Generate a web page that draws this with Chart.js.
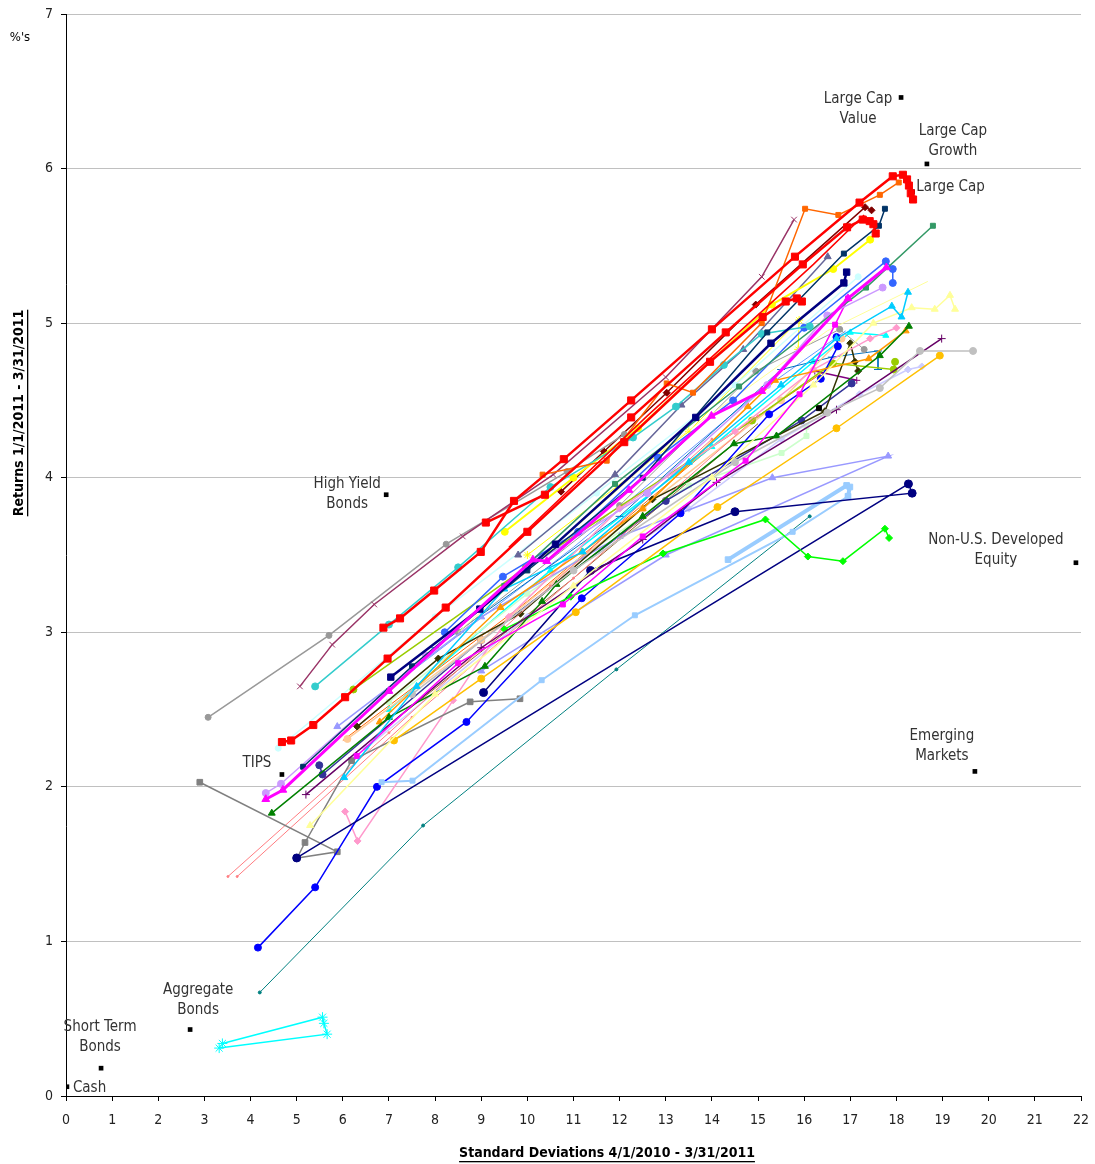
<!DOCTYPE html>
<html>
<head>
<meta charset="utf-8">
<script src="https://cdn.jsdelivr.net/npm/chart.js@4.4.1/dist/chart.umd.min.js"></script>
<style>
    html, body { margin: 0; padding: 0; background: #ffffff; }
    #wrap { width: 1095px; height: 1164px; }
</style>
</head>
<body>
<div id="wrap"><canvas id="riskReturnChart" width="1095" height="1164"></canvas></div>
<script>
// axis ticks
const xTicks = [0, 1, 2, 3, 4, 5, 6, 7, 8, 9, 10, 11, 12, 13, 14, 15, 16, 17, 18, 19, 20, 21, 22];
const yTicks = [0, 1, 2, 3, 4, 5, 6, 7];

// benchmark points (std dev, return)
const benchmarkNames = [
    ["Large Cap", "Value"], ["Large Cap", "Growth"], ["Large Cap"], ["High Yield", "Bonds"],
    ["Non-U.S. Developed", "Equity"], ["Emerging", "Markets"], ["TIPS"],
    ["Aggregate", "Bonds"], ["Short Term", "Bonds"], ["Cash"]
];
const benchmarkX = [18.10, 18.66, 18.35, 6.94, 21.89, 19.70, 4.68, 2.69, 0.76, 0.02];
const benchmarkY = [6.46, 6.03, 5.85, 3.89, 3.45, 2.10, 2.08, 0.43, 0.18, 0.06];

// manager trails (std dev, return)
const redA = [[6.88,3.03],[7.24,3.09],[7.98,3.27],[8.99,3.52],[9.71,3.85],[10.79,4.12],[12.25,4.50],[14.0,4.96],[15.8,5.43],[17.2,5.78],[17.92,5.95],[18.14,5.96],[18.23,5.93],[18.27,5.89],[18.31,5.84],[18.36,5.80]];
const redB = [[4.68,2.29],[4.88,2.30],[5.36,2.40],[6.05,2.58],[6.97,2.83],[8.23,3.16],[10.0,3.65],[12.1,4.23],[13.96,4.75],[15.1,5.04],[15.6,5.14],[15.84,5.16],[15.95,5.14]];
const redC = [[9.1,3.71],[10.38,3.89],[12.25,4.39],[14.3,4.94],[15.97,5.38],[16.93,5.62],[17.27,5.67],[17.42,5.66],[17.5,5.64],[17.55,5.58]];
const redThin = [[9.6,3.55],[12.6,4.4],[16.2,5.38],[17.3,5.7]];
const magentaTri = [[4.33,1.92],[4.70,1.98],[7.0,2.62],[10.12,3.47],[10.42,3.46],[12.2,3.92],[13.99,4.40],[15.08,4.56],[16.95,5.16],[17.78,5.36]];
const navySquare = [[7.04,2.71],[8.97,3.15],[10.61,3.57],[13.65,4.39],[15.28,4.87],[16.86,5.26],[16.92,5.33]];
const darkTealSquare = [[5.14,2.13],[7.5,2.78],[10.0,3.4],[12.5,4.0],[15.2,4.94],[16.86,5.45],[17.62,5.63],[17.75,5.74]];
const orangeSquare = [[10.33,4.02],[11.72,4.11],[13.02,4.61],[13.59,4.55],[15.08,5.0],[16.02,5.74],[16.74,5.70],[17.64,5.83],[18.05,5.91]];
const maroonCross = [[5.07,2.65],[5.77,2.92],[6.68,3.18],[8.6,3.62],[10.56,4.02],[13.0,4.65],[15.08,5.30],[15.78,5.67]];
const grayCircle = [[3.08,2.45],[5.70,2.98],[8.24,3.57],[10.86,4.04],[12.1,4.28]];
const tealCircle = [[5.40,2.65],[7.0,3.05],[8.5,3.42],[10.5,3.94],[12.29,4.26],[13.22,4.46],[14.26,4.73],[15.08,4.93],[16.12,4.98]];
const yellowCircle = [[9.51,3.65],[11.0,4.0],[12.4,4.32],[15.3,5.12],[16.63,5.35],[17.43,5.54]];
const darkRedDiamond = [[10.73,3.91],[11.66,4.17],[13.02,4.55],[14.95,5.12],[17.32,5.75],[17.46,5.73]];
const slateTri = [[9.8,3.5],[11.9,4.02],[13.34,4.47],[14.68,4.83],[16.51,5.43]];
const seaGreenSquare = [[7.0,2.62],[9.5,3.3],[11.9,3.96],[14.59,4.59],[17.34,5.23],[18.79,5.63]];
const royalBlueCircle = [[8.21,3.0],[9.47,3.36],[11.1,3.65],[12.83,4.13],[14.46,4.50],[16.0,4.97],[17.77,5.40],[17.92,5.35],[17.92,5.26]];
const lilacCircle = [[4.33,1.96],[4.66,2.02],[7.8,2.85],[10.0,3.42],[12.6,3.9],[15.2,4.6],[16.5,5.05],[17.7,5.23]];
const magentaSquare = [[6.3,2.2],[8.5,2.8],[10.77,3.18],[12.5,3.62],[14.73,4.11],[15.9,4.54],[16.67,4.99],[16.95,5.16]];
const skyTri = [[6.03,2.06],[7.6,2.65],[9.5,3.28],[11.2,3.52],[13.5,4.1],[15.5,4.6],[16.7,4.9],[17.9,5.11],[18.11,5.04],[18.25,5.20]];
const paleYellowTri = [[5.29,1.75],[8.0,2.6],[11.0,3.3],[14.0,4.0],[16.2,4.6],[17.5,5.0],[18.33,5.10],[18.83,5.09],[19.16,5.18],[19.27,5.09]];
const paleYellowThin = [[8.5,3.0],[13.0,4.2],[16.5,4.95],[18.68,5.27]];
const silverCircle = [[7.5,2.6],[11.0,3.4],[14.5,4.1],[16.5,4.42],[17.64,4.58],[18.51,4.82],[19.66,4.82]];
const goldCircle = [[7.11,2.30],[9.0,2.7],[11.05,3.13],[14.12,3.81],[16.7,4.32],[18.94,4.79]];
const purplePlus = [[5.2,1.95],[9.0,2.9],[12.5,3.6],[14.1,3.97],[16.7,4.44],[18.98,4.90]];
const greenTri = [[4.46,1.83],[7.0,2.45],[9.08,2.78],[10.32,3.2],[10.63,3.31],[12.5,3.75],[14.48,4.22],[15.4,4.27],[17.64,4.79],[18.27,4.98]];
const orangeTri = [[6.8,2.42],[9.42,3.16],[11.18,3.52],[12.5,3.8],[14.78,4.46],[15.37,4.63],[17.4,4.77],[18.2,4.95]];
const limeDiamond = [[9.5,3.02],[10.94,3.23],[12.94,3.51],[15.16,3.73],[16.08,3.49],[16.84,3.46],[17.75,3.67],[17.84,3.61]];
const navyCircle = [[9.05,2.61],[11.37,3.40],[14.5,3.78],[18.34,3.90],[18.26,3.96],[5.0,1.54]];
const lightBlueThick = [[14.35,3.47],[16.92,3.95],[16.99,3.94],[16.95,3.88]];
const lightBlueSquare = [[6.84,2.03],[7.51,2.04],[10.31,2.69],[12.33,3.11],[15.75,3.65],[16.95,3.88]];
const blueCircle = [[4.16,0.96],[5.40,1.35],[6.74,2.00],[8.68,2.42],[11.18,3.22],[13.32,3.77],[15.24,4.41],[16.36,4.64],[16.73,4.85],[16.7,4.91]];
const graySquare = [[2.90,2.03],[5.88,1.58],[5.01,1.54],[5.18,1.64],[6.19,2.17],[8.76,2.55],[9.84,2.57]];
const pinkDiamond = [[6.05,1.84],[6.32,1.65],[8.39,2.56],[9.6,3.1],[12.0,3.8],[14.5,4.3],[16.2,4.7],[17.43,4.90],[18.0,4.97]];
const tealThin = [[4.20,0.67],[7.74,1.75],[11.93,2.76],[16.12,3.75]];
const cyanStar = [[3.39,0.34],[5.56,0.51],[5.59,0.47],[5.66,0.40],[3.32,0.31]];
const salmonA = [[3.51,1.42],[7.0,2.35],[10.5,3.3],[14.0,4.25]];
const salmonB = [[3.71,1.42],[7.5,2.45],[11.0,3.35],[15.0,4.4]];
const limeCircle = [[6.23,2.63],[9.97,3.42],[14.87,4.37],[16.62,4.74],[17.94,4.70],[17.97,4.75]];
const oliveDiamond = [[6.31,2.39],[8.07,2.83],[9.85,3.12],[12.71,3.86],[16.45,4.43],[17.0,4.87],[17.1,4.75],[17.17,4.69]];
const blackSquare = [[16.32,4.45]];
const periwinkleTri = [[5.88,2.39],[9.0,3.1],[12.0,3.62],[15.31,4.0],[17.82,4.14],[13.0,3.5],[9.0,2.75]];
const peachCircle = [[6.1,2.31],[9.0,2.95],[12.5,3.8],[15.5,4.5],[16.81,4.9]];
const indigoCircle = [[5.49,2.14],[5.56,2.08],[9.0,2.95],[13.0,3.85],[15.94,4.37],[17.03,4.61]];
const lavenderDiamond = [[6.5,2.25],[10.0,3.1],[13.5,3.8],[15.5,4.25],[17.2,4.54],[18.25,4.70],[18.55,4.72]];
const paleGreenSquare = [[7.0,2.55],[10.0,3.25],[13.5,3.95],[15.51,4.16],[16.05,4.27],[16.05,4.33]];
const lightCyanCircle = [[4.6,2.25],[8.0,3.1],[11.5,3.9],[14.5,4.6],[17.17,5.30]];
const grayMid = [[8.5,3.0],[12.0,3.82],[14.95,4.69],[16.77,4.96],[17.3,4.83]];
const steelLine = [[8.0,2.9],[12.0,3.75],[15.5,4.7],[16.6,4.78],[17.6,4.82],[17.6,4.70]];
const yellowStar = [[10.0,3.5],[13.5,4.3],[15.89,5.02],[15.87,4.83]];
const aquaTri = [[7.0,2.5],[10.5,3.4],[14.0,4.2],[16.2,4.75],[17.0,4.94],[17.77,4.92]];
const cornflowerLine = [[7.5,2.75],[11.0,3.55],[15.0,4.55],[16.9,4.95]];
const purpleShort = [[16.23,4.69],[17.14,4.63]];
const orangeThin = [[6.0,2.3],[10.0,3.2],[14.0,4.2],[16.5,4.7]];
const brownLine = [[7.0,2.4],[11.0,3.35],[15.0,4.35]];

const labelFont = '"Liberation Sans Narrow", "DejaVu Sans Condensed", "Roboto Condensed", sans-serif';

// pixel offsets of the benchmark captions from their squares
const labelOffsets = [
    [-43, 2], [26, -33], [38, -5], [-39, -11], [-80, -23],
    [-33, -35], [-25, -11], [8, -39], [-1, -41], [20, 1]
];

function trail(points, color, pointStyle, radius, width) {
    return {
        data: points.map(p => ({ x: p[0], y: p[1] })),
        showLine: true,
        borderColor: color,
        borderWidth: width,
        backgroundColor: color,
        pointBackgroundColor: color,
        pointBorderColor: color,
        pointBorderWidth: 1,
        pointStyle: pointStyle,
        pointRadius: radius,
        tension: 0
    };
}

const benchmarkLabels = {
    id: "benchmarkLabels",
    afterDraw(chart) {
        const ctx = chart.ctx;
        const xs = chart.scales.x;
        const ys = chart.scales.y;
        ctx.save();
        ctx.fillStyle = "#333333";
        ctx.font = `15px ${labelFont}`;
        ctx.textBaseline = "middle";
        benchmarkNames.forEach((lines, i) => {
            const px = xs.getPixelForValue(benchmarkX[i]) + labelOffsets[i][0];
            const py = ys.getPixelForValue(benchmarkY[i]) + labelOffsets[i][1];
            ctx.textAlign = lines[0] === "Cash" ? "left" : "center";
            const startX = lines[0] === "Cash" ? px - 14 : px;
            lines.forEach((line, j) => ctx.fillText(line, startX, py + j * 20));
        });

        ctx.fillStyle = "#000000";
        ctx.font = `13px ${labelFont}`;
        ctx.textAlign = "center";
        ctx.fillText("%'s", 20, 38);

        // axis titles, bold and underlined
        ctx.font = `bold 14px ${labelFont}`;
        const xTitle = "Standard Deviations 4/1/2010 - 3/31/2011";
        const xw = ctx.measureText(xTitle).width;
        ctx.fillText(xTitle, 607, 1153);
        ctx.fillRect(607 - xw / 2, 1161, xw, 1.3);

        const yTitle = "Returns 1/1/2011 - 3/31/2011";
        const yw = ctx.measureText(yTitle).width;
        ctx.translate(19, 413);
        ctx.rotate(-Math.PI / 2);
        ctx.fillText(yTitle, 0, 0);
        ctx.fillRect(-yw / 2, 8, yw, 1.3);
        ctx.restore();
    }
};

function drawChart() {
    const canvas = document.getElementById("riskReturnChart");

    const datasets = [
        trail(redA, "#ff0000", "rect", 5, 2.5),
        trail(redB, "#ff0000", "rect", 5, 2.5),
        trail(redC, "#ff0000", "rect", 5, 2.5),
        trail(redThin, "#ff0000", "circle", 0, 1.5),
        trail(magentaTri, "#ff00ff", "triangle", 4.5, 3),
        trail(navySquare, "#000080", "rect", 4.5, 2.5),
        trail(darkTealSquare, "#003366", "rect", 3.5, 1.5),
        trail(orangeSquare, "#ff6600", "rect", 3.5, 1.5),
        trail(maroonCross, "#993366", "crossRot", 4, 1.5),
        trail(grayCircle, "#999999", "circle", 3, 1.5),
        trail(tealCircle, "#33cccc", "circle", 3.5, 1.5),
        trail(yellowCircle, "#ffff00", "circle", 3.5, 2),
        trail(darkRedDiamond, "#800000", "rectRot", 3.5, 1.5),
        trail(slateTri, "#666699", "triangle", 4, 1.5),
        trail(seaGreenSquare, "#339966", "rect", 3.5, 1.5),
        trail(royalBlueCircle, "#3366ff", "circle", 3.5, 1.5),
        trail(lilacCircle, "#cc99ff", "circle", 3.5, 1.5),
        trail(magentaSquare, "#ff00ff", "rect", 3.5, 1.5),
        trail(skyTri, "#00ccff", "triangle", 4, 1.5),
        trail(paleYellowTri, "#ffff99", "triangle", 4, 1.5),
        trail(paleYellowThin, "#ffff99", "circle", 0, 1),
        trail(silverCircle, "#c0c0c0", "circle", 3.5, 1.5),
        trail(goldCircle, "#ffc000", "circle", 3.5, 1.5),
        trail(purplePlus, "#660066", "cross", 4, 1.5),
        trail(greenTri, "#008000", "triangle", 4, 1.5),
        trail(orangeTri, "#ff9900", "triangle", 4, 1.5),
        trail(limeDiamond, "#00ff00", "rectRot", 3.5, 1.5),
        trail(navyCircle, "#000080", "circle", 4, 1.5),
        trail(lightBlueThick, "#99ccff", "rect", 4, 4),
        trail(lightBlueSquare, "#99ccff", "rect", 3.5, 2),
        trail(blueCircle, "#0000ff", "circle", 3.5, 1.5),
        trail(graySquare, "#808080", "rect", 4, 1.5),
        trail(pinkDiamond, "#ff99cc", "rectRot", 3.5, 1.5),
        trail(tealThin, "#008080", "circle", 1.5, 1),
        trail(cyanStar, "#00ffff", "star", 5, 1.5),
        trail(salmonA, "#ff7c80", "circle", 1, 1),
        trail(salmonB, "#ff7c80", "circle", 1, 1),
        trail(limeCircle, "#99cc00", "circle", 3.5, 1.5),
        trail(oliveDiamond, "#333300", "rectRot", 3.5, 1.5),
        trail(blackSquare, "#000000", "rect", 3.5, 1),
        trail(periwinkleTri, "#9999ff", "triangle", 4, 1.5),
        trail(peachCircle, "#ffcc99", "circle", 3.5, 1.5),
        trail(indigoCircle, "#333399", "circle", 3.5, 1.5),
        trail(lavenderDiamond, "#ccccff", "rectRot", 3.5, 1.5),
        trail(paleGreenSquare, "#ccffcc", "rect", 3.5, 1.5),
        trail(lightCyanCircle, "#ccffff", "circle", 3, 1.5),
        trail(grayMid, "#999999", "circle", 3, 1),
        trail(steelLine, "#0070c0", "line", 4, 1),
        trail(yellowStar, "#ffff00", "star", 4, 1),
        trail(aquaTri, "#00ffff", "triangle", 3.5, 1.5),
        trail(cornflowerLine, "#6699ff", "circle", 0, 1),
        trail(purpleShort, "#800080", "cross", 3.5, 1.5),
        trail(orangeThin, "#ff6600", "circle", 0, 1),
        trail(brownLine, "#996633", "circle", 0, 1),
        {
            data: benchmarkX.map((x, i) => ({ x: x, y: benchmarkY[i] })),
            showLine: false,
            pointStyle: "rect",
            pointRadius: 3.3,
            pointBackgroundColor: "#000000",
            pointBorderColor: "#000000",
            pointBorderWidth: 0
        }
    ];

    new Chart(canvas, {
        type: "scatter",
        data: { datasets: datasets },
        plugins: [benchmarkLabels],
        options: {
            responsive: false,
            animation: false,
            devicePixelRatio: 1,
            layout: { padding: { top: 14, right: 14, left: 0, bottom: 0 } },
            plugins: {
                legend: { display: false },
                tooltip: { enabled: false }
            },
            scales: {
                x: {
                    type: "linear",
                    min: xTicks[0],
                    max: xTicks[xTicks.length - 1],
                    afterBuildTicks: scale => { scale.ticks = xTicks.map(v => ({ value: v })); },
                    afterFit: scale => {
                        scale.height = 68;
                        scale.paddingLeft = 0;
                        scale.paddingRight = 0;
                    },
                    grid: {
                        drawOnChartArea: false,
                        drawTicks: true,
                        tickLength: 5,
                        tickColor: "#000000"
                    },
                    border: { color: "#000000", width: 1 },
                    ticks: {
                        color: "#222222",
                        padding: 11,
                        maxRotation: 0,
                        font: { family: labelFont, size: 14 }
                    }
                },
                y: {
                    type: "linear",
                    min: yTicks[0],
                    max: yTicks[yTicks.length - 1],
                    afterBuildTicks: scale => { scale.ticks = yTicks.map(v => ({ value: v })); },
                    afterFit: scale => {
                        scale.width = 66;
                        scale.paddingTop = 0;
                        scale.paddingBottom = 0;
                    },
                    grid: {
                        color: "#c0c0c0",
                        lineWidth: 1,
                        tickLength: 5,
                        tickColor: "#000000"
                    },
                    border: { color: "#000000", width: 1 },
                    ticks: {
                        color: "#222222",
                        padding: 8,
                        font: { family: labelFont, size: 14 }
                    }
                }
            }
        }
    });
}

document.addEventListener("DOMContentLoaded", drawChart);
</script>
</body>
</html>
